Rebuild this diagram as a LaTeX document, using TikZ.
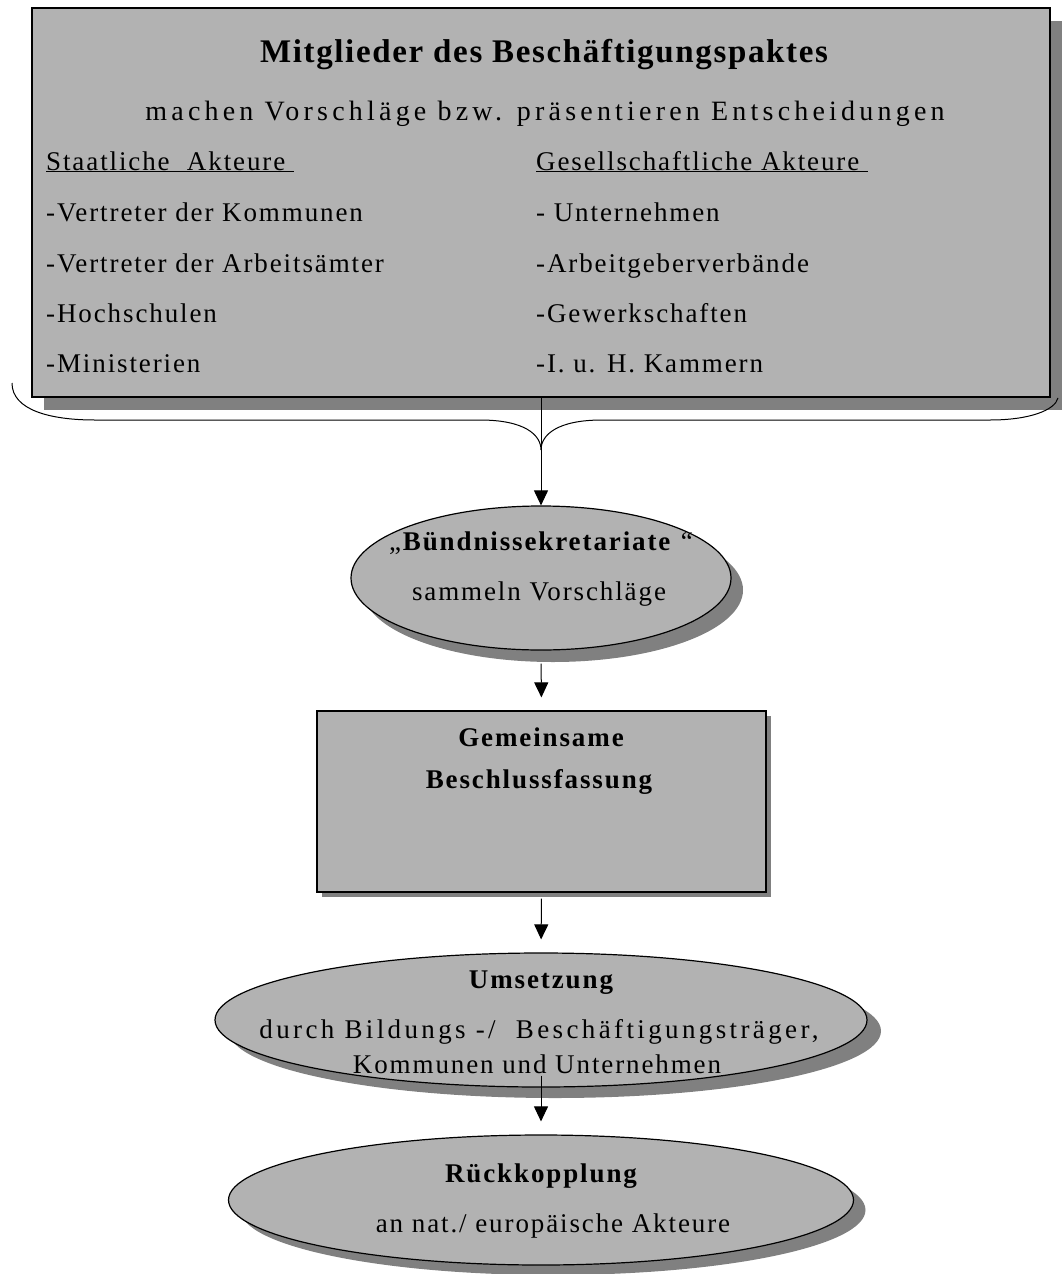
\documentclass[tikz,border=0pt]{standalone}
\usepackage{fontspec}
\setmainfont[LetterSpace=7]{Liberation Serif}
\newfontfamily\widefont[LetterSpace=15]{Liberation Serif}
\newfontfamily\midfont[LetterSpace=12.5]{Liberation Serif}
\newfontfamily\titlefont[LetterSpace=5]{Liberation Serif}
\usetikzlibrary{shapes.geometric, arrows.meta, positioning, shadows}
\tikzset{
    panel/.style={draw=black, line width=1.2pt, fill=black!30, inner sep=0pt},
    boxshape/.style={panel, rectangle},
    oval/.style={panel, ellipse},
    dropshade/.style 2 args={drop shadow={shadow xshift=#1, shadow yshift=-#2, fill=black!50, opacity=1}},
    txt/.style={anchor=base, inner sep=0pt, font=\fontsize{27}{32}\selectfont},
    txtl/.style={txt, anchor=base west},
    arrow/.style={-{Triangle[width=14pt,length=15pt]}, line width=1pt, black}
}

\begin{document}
\begin{tikzpicture}[x=1pt, y=-1pt]
    \useasboundingbox (0,0) rectangle (1061,1274);
    % members of the pact
    \node [boxshape, dropshade={12pt}{13pt}, minimum width=1018pt, minimum height=389pt] (members) at (541,202.5) {};
    \node [txt, font={\titlefont\fontsize{33}{38}\selectfont\bfseries}] (title) at (544,62) {Mitglieder des Beschäftigungspaktes};
    \node [txt, font={\widefont\fontsize{28}{32}\selectfont}] (subtitle) at (545,120) {machen Vorschläge bzw. präsentieren Entscheidungen};
    \node [txtl] (statehead) at (46,170) {\underline{Staatliche~~Akteure~}};
    \node [txtl] (state1) at (46,221) {-Vertreter der Kommunen};
    \node [txtl] (state2) at (46,272) {-Vertreter der Arbeitsämter};
    \node [txtl] (state3) at (46,322) {-Hochschulen};
    \node [txtl] (state4) at (46,372) {-Ministerien};
    \node [txtl] (sochead) at (536,170) {\underline{Gesellschaftliche Akteure~}};
    \node [txtl] (soc1) at (536,221) {- Unternehmen};
    \node [txtl] (soc2) at (536,272) {-Arbeitgeberverbände};
    \node [txtl] (soc3) at (536,322) {-Gewerkschaften};
    \node [txtl] (soc4) at (536,372) {-I. u. H. Kammern};
    % brace under the box
    \draw [line width=1pt] (12,383) .. controls (12,410) and (50,420) .. (95,420) -- (480,420)
        .. controls (525,420) and (541,435) .. (541,450) .. controls (541,435) and (557,420) .. (602,420)
        -- (990,420) .. controls (1030,420) and (1055,410) .. (1058,398);

    \node [oval, dropshade={12pt}{12pt}, minimum width=380pt, minimum height=144pt] (secretariat) at (541,578) {};
    \node [txt] (secname) at (541,550) {„\textbf{Bündnissekretariate} “};
    \node [txt] (secnote) at (539,600) {sammeln Vorschläge};

    \node [boxshape, dropshade={5pt}{5pt}, minimum width=449pt, minimum height=181pt] (decision) at (541.5,801.5) {};
    \node [txt, font={\fontsize{27}{32}\selectfont\bfseries}] (decname1) at (541,746) {Gemeinsame};
    \node [txt, font={\fontsize{27}{32}\selectfont\bfseries}] (decname2) at (539,788) {Beschlussfassung};

    \node [oval, dropshade={14pt}{11pt}, minimum width=652pt, minimum height=134pt] (implement) at (541,1020) {};
    \node [txt, font={\fontsize{27}{32}\selectfont\bfseries}] (impname) at (541,988) {Umsetzung};
    \node [txt, font={\midfont\fontsize{27}{32}\selectfont}] (impnote1) at (539,1038) {durch Bildungs -/~~Beschäftigungsträger,};
    \node [txt] (impnote2) at (537,1073) {Kommunen und Unternehmen};

    \node [oval, dropshade={12pt}{10pt}, minimum width=625pt, minimum height=130pt] (feedback) at (541,1200) {};
    \node [txt, font={\fontsize{27}{32}\selectfont\bfseries}] (fbname) at (541,1182) {Rückkopplung};
    \node [txt] (fbnote) at (553,1232) {an nat./ europäische Akteure};

    \draw [arrow] (members.south) -- (secretariat.north);
    \draw [arrow, shorten <=13pt, shorten >=13pt] (secretariat.south) -- (decision.north);
    \draw [arrow, shorten <=6pt, shorten >=13pt] (decision.south) -- (implement.north);
    \draw [arrow, shorten <=-12pt, shorten >=13pt] (implement.south) -- (feedback.north);
\end{tikzpicture}
\end{document}
